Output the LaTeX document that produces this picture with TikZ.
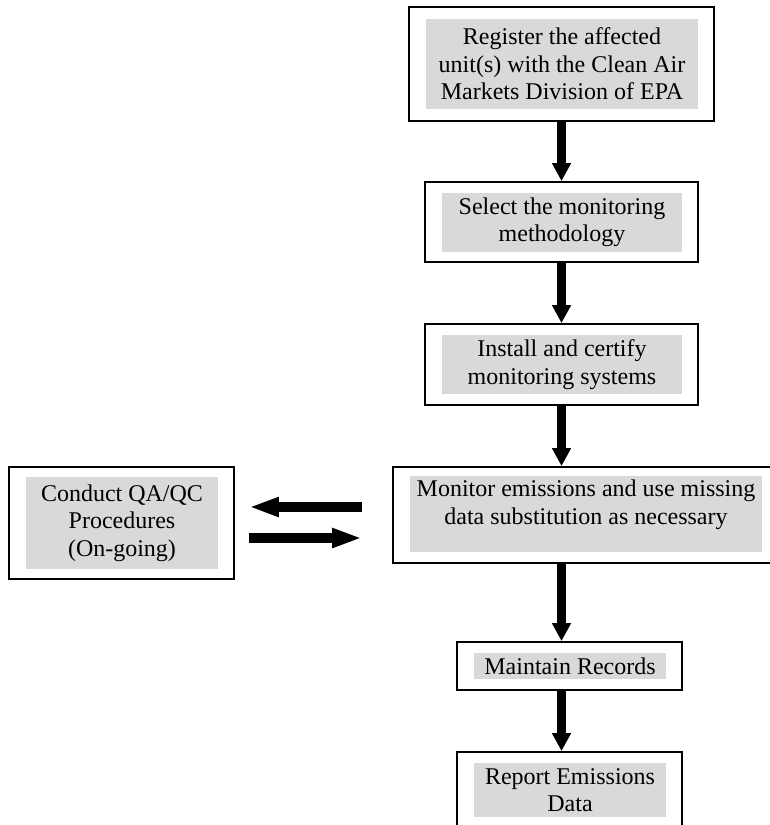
\documentclass[tikz,border=0pt]{standalone}
\usepackage{fontspec}
\setmainfont{Liberation Serif}
\usetikzlibrary{positioning,arrows.meta,calc}

\begin{document}
\begin{tikzpicture}[x=1pt,y=-1pt,
  outerbox/.style={draw=black,line width=1.8pt,inner sep=0pt},
  shade/.style={fill=black!15,inner sep=0pt,align=center,font=\fontsize{24}{27.5}\selectfont},
  plaintext/.style={inner sep=0pt,align=center,font=\fontsize{24}{27.5}\selectfont},
  downarrow/.style={line width=9pt,-{Triangle[width=18pt,length=18pt]}},
  sidearrow/.style={line width=10pt,-{Triangle[width=18pt,length=30pt]}}]
\useasboundingbox (0,0) rectangle (770,825);
\node [outerbox,minimum width=305,minimum height=114] (register) at (561.5,64) {};
\node [shade,minimum width=272,minimum height=90] (register-t) at (562,64) {Register the affected\\unit(s) with the Clean Air\\Markets Division of EPA};
\node [outerbox,minimum width=273,minimum height=80] (select) at (561.5,222) {};
\node [shade,minimum width=240,minimum height=59] (select-t) at (562,222.5) {Select the monitoring\\methodology};
\node [outerbox,minimum width=273,minimum height=81] (install) at (561.5,364.5) {};
\node [shade,minimum width=240,minimum height=59] (install-t) at (562,364.5) {Install and certify\\monitoring systems};
\node [outerbox,minimum width=383,minimum height=96] (monitor) at (584.5,515) {};
\node [shade,minimum width=352,minimum height=76] (monitor-g) at (586,514) {};
\node [plaintext] (monitor-t) at (586,505) {Monitor emissions and use missing\\data substitution as necessary};
\node [outerbox,minimum width=225,minimum height=48] (maintain) at (569.5,666) {};
\node [shade,minimum width=192,minimum height=26] (maintain-t) at (570,666) {Maintain Records};
\node [outerbox,minimum width=225,minimum height=128] (report) at (569.5,816) {};
\node [shade,minimum width=192,minimum height=54] (report-t) at (570,790) {Report Emissions\\Data};
\node [outerbox,minimum width=225,minimum height=112] (qaqc) at (121.5,523) {};
\node [shade,minimum width=192,minimum height=92] (qaqc-t) at (122,523) {Conduct QA/QC\\Procedures\\(On-going)};
\draw [downarrow] (register.south) -- (select.north);
\draw [downarrow] (select.south) -- (install.north);
\draw [downarrow] (install.south) -- (install.south |- monitor.north);
\draw [downarrow] (install.south |- monitor.south) -- (install.south |- maintain.north);
\draw [downarrow] (install.south |- maintain.south) -- (install.south |- report.north);
\draw [sidearrow] ($(monitor.west)+(-30,-8)$) -- ($(qaqc.east)+(14,-16)$);
\draw [sidearrow] ($(qaqc.east)+(14,15)$) -- ($(monitor.west)+(-30,23)$);
\end{tikzpicture}
\end{document}
